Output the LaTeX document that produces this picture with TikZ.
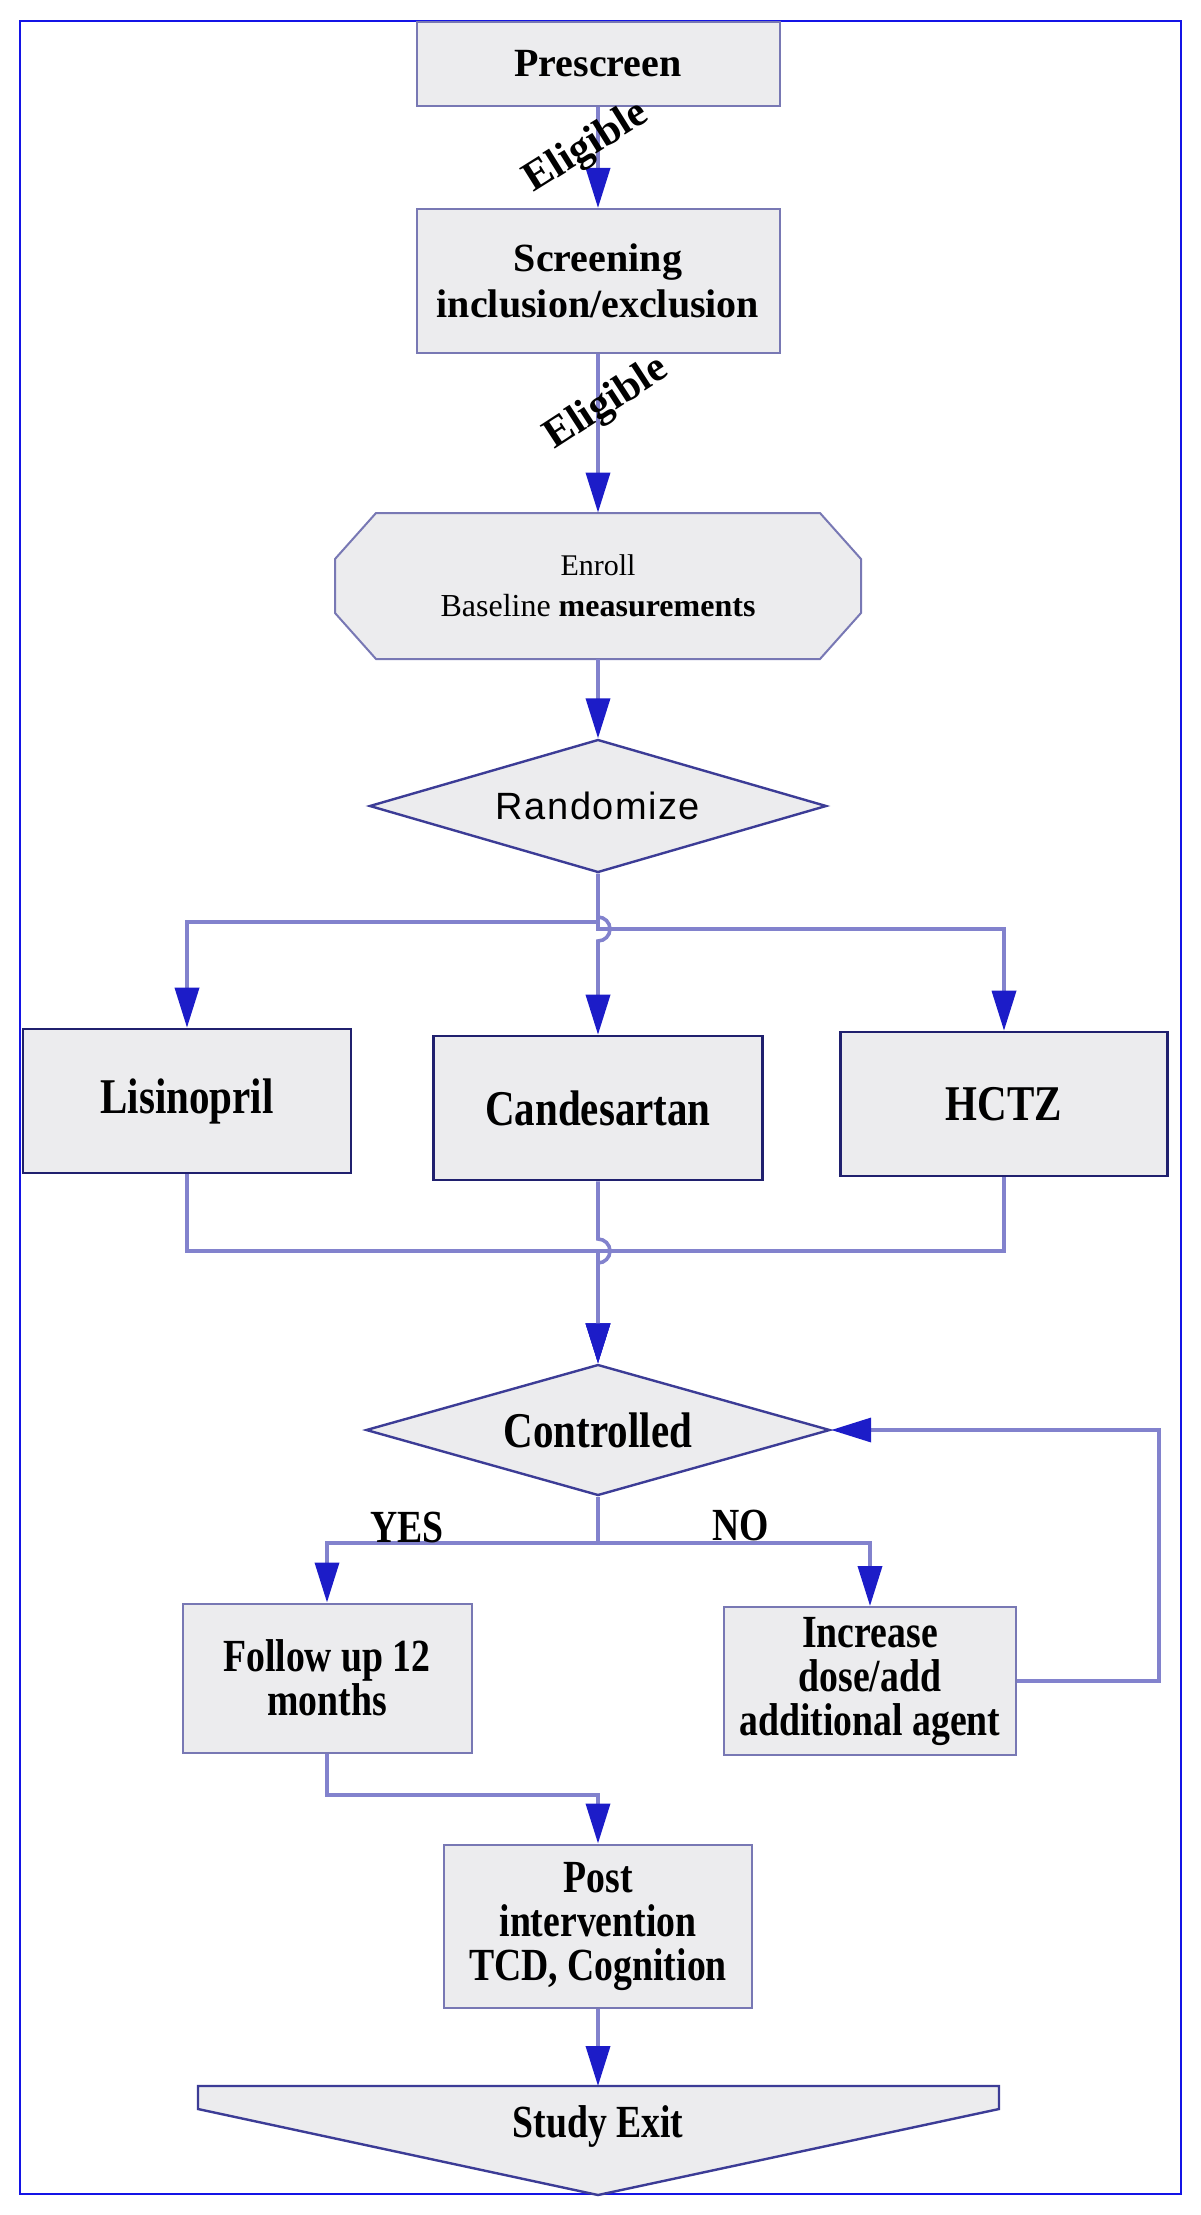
\documentclass[tikz,border=0pt]{standalone}
\usepackage{fontspec}
\setmainfont{Liberation Serif}
\newfontfamily\condfont[FakeStretch=0.82]{Liberation Serif}
\newfontfamily\randfont[LetterSpace=4]{Liberation Sans}
\usetikzlibrary{arrows.meta,shapes.geometric,calc}
\definecolor{linecol}{RGB}{130,130,205}
\definecolor{arrowcol}{RGB}{28,28,200}
\definecolor{boxfill}{RGB}{236,236,238}
\definecolor{boxedge}{RGB}{120,120,180}
\definecolor{darkedge}{RGB}{32,32,110}
\definecolor{diamedge}{RGB}{60,60,150}
\definecolor{framecol}{RGB}{20,20,230}
\tikzstyle{box} = [draw=boxedge,fill=boxfill,line width=1pt,align=center,inner sep=2pt,font=\bfseries\fontsize{20}{23}\selectfont]
\tikzstyle{drug} = [box,draw=darkedge,line width=1.3pt,font=\condfont\bfseries\fontsize{25}{27}\selectfont]
\tikzstyle{late} = [box,font=\condfont\bfseries\fontsize{23}{22}\selectfont]
\tikzstyle{decision} = [diamond,aspect=3.5,draw=diamedge,fill=boxfill,line width=1.2pt,inner sep=0pt]
\tikzstyle{conn} = [draw=linecol,line width=1.8pt,-{Triangle[length=20pt,width=12pt,color=arrowcol]}]
\tikzstyle{eligible} = [font=\bfseries\fontsize{21}{22}\selectfont,inner sep=0pt]
\tikzstyle{answer} = [font=\condfont\bfseries\fontsize{23}{23}\selectfont,inner sep=0pt]

\begin{document}
\begin{tikzpicture}[x=0.5pt,y=-0.5pt]
  \useasboundingbox (0,0) rectangle (1200,2215);
  \draw[framecol,line width=1.4pt] (20,21) rectangle (1181,2194);

  \node (pre)[box,minimum width=181.5pt,minimum height=42pt] at (598,64) {Prescreen};
  \node (scr)[box,minimum width=181.5pt,minimum height=72pt] at (598,281) {Screening\\inclusion/exclusion};

  % enroll octagon
  \draw[boxedge,fill=boxfill,line width=1pt] (376,513) -- (820,513) -- (861,559) -- (861,613) -- (820,659)
        -- (376,659) -- (335,613) -- (335,559) -- cycle;
  \node (enr)[align=center,minimum width=263pt,minimum height=73pt,font=\fontsize{16}{20.5}\selectfont] at (598,586)
              {{\fontsize{15}{20.5}\selectfont Enroll}\\Baseline {\bfseries measurements}};
  \node (rand)[decision,minimum width=228.5pt,minimum height=66.5pt,font=\randfont\fontsize{19}{21}\selectfont] at (598,806) {Randomize};

  \node (lis)[drug,minimum width=164pt,minimum height=72pt] at (187,1101) {Lisinopril};
  \node (cand)[drug,minimum width=164.5pt,minimum height=72pt] at (598,1108) {Candesartan};
  \node (hctz)[drug,minimum width=163.5pt,minimum height=72pt] at (1004,1104) {HCTZ};

  \node (ctrl)[decision,minimum width=232pt,minimum height=65.5pt,font=\condfont\bfseries\fontsize{25}{27}\selectfont] at (598,1430) {Controlled};
  \node (fol)[late,minimum width=144.5pt,minimum height=74.5pt] at (327,1678) {Follow up 12\\months};
  \node (inc)[late,minimum width=146pt,minimum height=74pt] at (870,1681) {Increase\\dose/add\\additional agent};
  \node (post)[late,minimum width=154pt,minimum height=81.5pt] at (598,1926) {Post\\intervention\\TCD, Cognition};

  % study exit
  \draw[diamedge,fill=boxfill,line width=1.2pt] (198,2086) -- (999,2086) -- (999,2109) -- (598,2195) -- (198,2109) -- cycle;
  \coordinate (exittop) at (598,2086);
  \node (exit)[answer] at (598,2126) {Study Exit};

  % connectors
  \draw[conn] (pre) -- (scr);
  \draw[conn] (scr) -- (enr);
  \draw[conn] (enr) -- (rand);
  \node (elig1)[eligible,rotate=32] at (587,148) {Eligible};
  \node (elig2)[eligible,rotate=33] at (607,404) {Eligible};

  \draw[conn] (rand.south) -- (598,922) -| (lis.north);
  \draw[conn] (rand.south) -- (598,929) -| (hctz.north);
  \draw[conn] (rand.south) -- (598,917) arc[start angle=90,end angle=-90,radius=6pt] -- (cand.north);

  \draw[conn] (lis.south) |- (598,1251) -- (ctrl.north);
  \draw[conn] (hctz.south) |- (598,1251) -- (ctrl.north);
  \draw[conn] (cand.south) -- (598,1239) arc[start angle=90,end angle=-90,radius=6pt] -- (ctrl.north);

  \draw[conn] (ctrl.south) -- (598,1543) -| (fol.north);
  \draw[conn] (ctrl.south) -- (598,1543) -| (inc.north);
  \node (yes)[answer] at (407,1527) {YES};
  \node (no)[answer] at (741,1525) {NO};
  \draw[conn] (inc.east) -- (1159,1681) |- (ctrl.east);

  \draw[conn] (fol.south) |- (598,1795) -- (post.north);
  \draw[conn] (post.south) -- (exittop);
\end{tikzpicture}
\end{document}
